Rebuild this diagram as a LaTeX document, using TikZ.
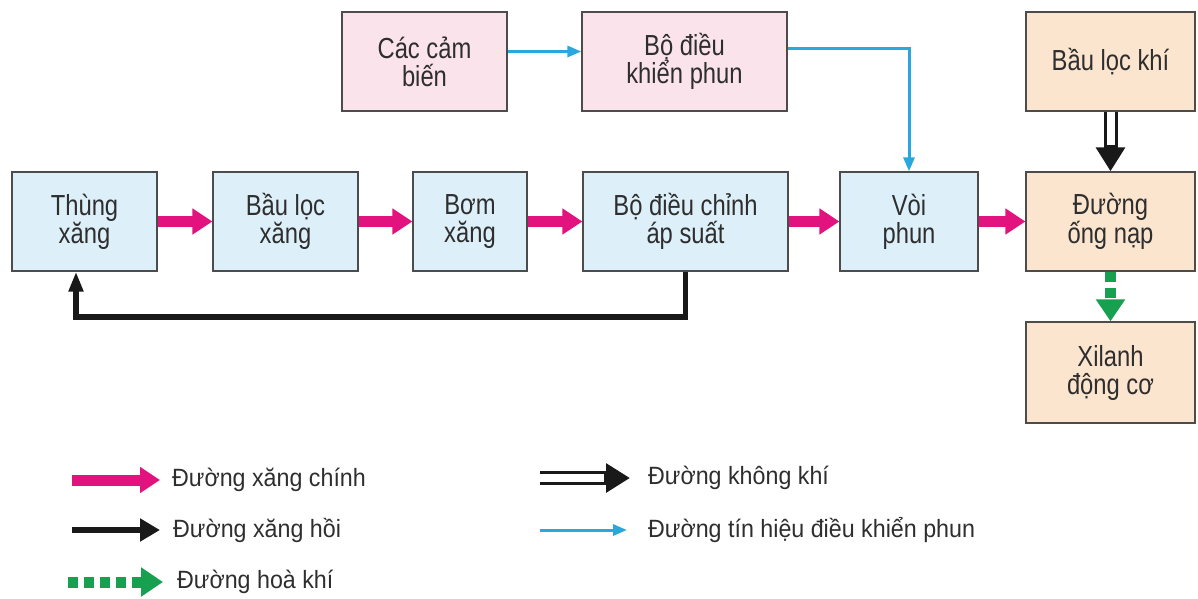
\documentclass[tikz,border=0pt]{standalone}
\usepackage{fontspec}
\setmainfont{Liberation Sans}[FakeStretch=0.82]
\newfontfamily\legfont{Liberation Sans}[FakeStretch=0.93]
\usetikzlibrary{arrows.meta,calc}

\definecolor{boxblue}{HTML}{DDF0FA}
\definecolor{boxpink}{HTML}{FBE3EC}
\definecolor{boxtan}{HTML}{FCE5CF}
\definecolor{fuelpink}{HTML}{E2127E}
\definecolor{sigblue}{HTML}{29A8DF}
\definecolor{mixgreen}{HTML}{17A050}
\definecolor{txtgray}{HTML}{2E2E2E}

\tikzset{
  block/.style={draw=black!70, line width=1.3pt, align=center, inner sep=0pt,
    text=txtgray, font=\fontsize{29}{28}\selectfont},
  legtext/.style={anchor=west, inner sep=0pt, text=txtgray,
    font=\legfont\fontsize{25}{28}\selectfont},
  fuel/.style={fuelpink, line width=11pt, -{Triangle[length=20pt,width=25pt]}},
  retline/.style={black!90, line width=5.5pt, -{Triangle[length=20pt,width=14pt]}},
  signal/.style={sigblue, line width=3pt, -{Triangle[length=14pt,width=11pt]}},
  airout/.style={black!90, line width=14pt, -{Triangle[length=24pt,width=28pt]}},
  airin/.style={white, line width=8pt, shorten >=26pt},
  mixture/.style={mixgreen, line width=11pt, dash pattern=on 10pt off 6pt,
    -{Triangle[length=22pt,width=28pt]}}
}

\begin{document}
\begin{tikzpicture}[x=1pt, y=-1pt]

\useasboundingbox (0,0) rectangle (1198,598);

% --- Fuel line boxes ---
\node[block, fill=boxblue, minimum width=145pt, minimum height=99pt] (thung) at (84.5,221.5) {Thùng\\xăng};
\node[block, fill=boxblue, minimum width=145pt, minimum height=99pt] (locxang) at (285.5,221.5) {Bầu lọc\\xăng};
\node[block, fill=boxblue, minimum width=114pt, minimum height=99pt] (bom) at (470,221.5) {Bơm\\xăng};
\node[block, fill=boxblue, minimum width=205pt, minimum height=99pt] (dieuchinh) at (685.5,221.5) {Bộ điều chỉnh\\áp suất};
\node[block, fill=boxblue, minimum width=138pt, minimum height=99pt] (voi) at (909,221.5) {Vòi\\phun};

% --- Control boxes ---
\node[block, fill=boxpink, minimum width=165pt, minimum height=99pt] (cambien) at (424.5,61.5) {Các cảm\\biến};
\node[block, fill=boxpink, minimum width=205pt, minimum height=99pt] (dieukhien) at (684.5,61.5) {Bộ điều\\khiển phun};

% --- Air side ---
\node[block, fill=boxtan, minimum width=169pt, minimum height=99pt] (lockhi) at (1110.5,61.5) {Bầu lọc khí};
\node[block, fill=boxtan, minimum width=169pt, minimum height=99pt] (ongnap) at (1110.5,221.5) {Đường\\ống nạp};
\node[block, fill=boxtan, minimum width=169pt, minimum height=101pt] (xilanh) at (1110.5,372.5) {Xilanh\\động cơ};

% --- Main fuel flow ---
\draw[fuel] (thung) -- (locxang);
\draw[fuel] (locxang) -- (bom);
\draw[fuel] (bom) -- (dieuchinh);
\draw[fuel] (dieuchinh) -- (voi);
\draw[fuel] (voi) -- (ongnap);

% Return line
\coordinate (ret) at (76,317);
\draw[retline] (dieuchinh.south) |- (ret) -- (ret |- thung.south);

% Control signals
\draw[signal] ([yshift=10pt]cambien.east) -- ([yshift=10pt]dieukhien.west);
\draw[signal] ([yshift=13pt]dieukhien.east) -| (voi.north);

% Air and mixture
\draw[airout] (lockhi) -- (ongnap);
\draw[airin] (lockhi) -- (ongnap);
\draw[mixture] (ongnap) -- (xilanh);

% --- Legend ---
\node[legtext] (lfuel) at (172,480) {Đường xăng chính};
\node[legtext] (lret) at (173,530) {Đường xăng hồi};
\node[legtext] (lmix) at (177,582) {Đường hoà khí};
\node[legtext] (lair) at (648,478) {Đường không khí};
\node[legtext] (lsig) at (648,530) {Đường tín hiệu điều khiển phun};

\coordinate (kfuel) at (72,480);
\coordinate (kret) at (72,530);
\coordinate (kmix) at (68,582);
\coordinate (kair) at (540,478);
\coordinate (ksig) at (540,530);

\draw[fuel] (kfuel) -- ([xshift=-12pt]lfuel.west);
\draw[retline, -{Triangle[length=20pt,width=22pt]}] (kret) -- ([xshift=-13pt]lret.west);
\draw[mixture] (kmix) -- ([xshift=-14pt]lmix.west);
\draw[airout] (kair) -- ([xshift=-18pt]lair.west);
\draw[airin] (kair) -- ([xshift=-18pt]lair.west);
\draw[signal] (ksig) -- ([xshift=-21pt]lsig.west);

\end{tikzpicture}
\end{document}
